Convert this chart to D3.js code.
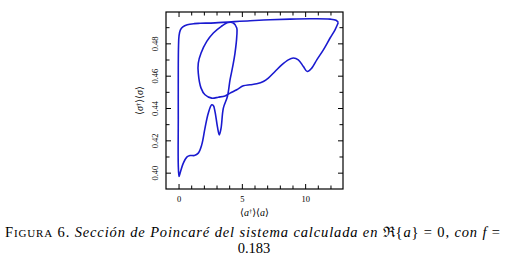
<!DOCTYPE html>
<html>
<head>
<meta charset="utf-8">
<script src="https://cdn.jsdelivr.net/npm/d3@7"></script>
<style>
  body { margin: 0; background: #fff; }
  svg { display: block; }
  text { font-family: "Liberation Serif", "DejaVu Serif", serif; }
</style>
</head>
<body>
<div id="chart"></div>
<script>
// Poincare section (x = <a+><a>, y = <s+><s>)
const secX = [12.58, 12.32, 11.93, 11.40, 10.88, 10.48, 10.13, 9.82, 9.42, 9.03, 8.63, 8.11, 7.58, 7.05, 6.66, 6.14, 5.61, 5.08, 4.56, 4.03, 3.63, 3.10, 2.58, 2.05, 1.74, 1.52, 1.52, 1.74, 2.19, 2.71, 3.32, 3.89, 4.29, 4.56, 4.56, 4.42, 4.24, 4.03, 3.82, 3.50, 3.32, 3.18, 3.03, 2.84, 2.71, 2.58, 2.31, 2.05, 1.79, 1.52, 1.21, 0.87, 0.61, 0.34, 0.08, 0.00, -0.06, -0.06, -0.06, -0.04, 0.00, 0.10, 0.30, 0.65, 1.20, 1.66, 2.84, 5.61, 7.19, 8.77, 10.35, 11.93, 12.40, 12.58];
const secY = [0.4932, 0.4887, 0.4836, 0.4763, 0.4701, 0.4650, 0.4629, 0.4660, 0.4701, 0.4712, 0.4701, 0.4670, 0.4629, 0.4588, 0.4567, 0.4553, 0.4547, 0.4540, 0.4516, 0.4495, 0.4478, 0.4470, 0.4464, 0.4485, 0.4526, 0.4619, 0.4681, 0.4743, 0.4815, 0.4867, 0.4907, 0.4932, 0.4929, 0.4898, 0.4846, 0.4743, 0.4660, 0.4578, 0.4474, 0.4402, 0.4279, 0.4237, 0.4288, 0.4381, 0.4418, 0.4423, 0.4371, 0.4279, 0.4175, 0.4124, 0.4109, 0.4109, 0.4099, 0.4062, 0.4000, 0.3979, 0.4051, 0.4330, 0.4650, 0.4790, 0.4850, 0.4885, 0.4905, 0.4918, 0.4925, 0.4927, 0.4930, 0.4943, 0.4949, 0.4953, 0.4955, 0.4953, 0.4946, 0.4932];

const xTicks = [0, 5, 10];
const yTicks = [0.40, 0.42, 0.44, 0.46, 0.48];

const width = 508;
const height = 268;
const plot = { left: 166, right: 343, top: 12, bottom: 189 };

const svg = d3.select("#chart").append("svg")
    .attr("width", width)
    .attr("height", height);

const x = d3.scaleLinear().domain([-1.03, 12.95]).range([plot.left, plot.right]);
const y = d3.scaleLinear().domain([0.3902, 0.4997]).range([plot.bottom, plot.top]);

// frame
svg.append("rect")
    .attr("x", plot.left)
    .attr("y", plot.top)
    .attr("width", plot.right - plot.left)
    .attr("height", plot.bottom - plot.top)
    .attr("fill", "none")
    .attr("stroke", "#000")
    .attr("stroke-width", 1.2);

// inward ticks on all four sides
const xMinor = d3.range(0, 13, 1);
const yMinor = d3.range(0.40, 0.495, 0.01);

function tickLen(v, majors) {
    return majors.some(m => Math.abs(m - v) < 1e-6) ? 5 : 3.5;
}

const tickG = svg.append("g").attr("stroke", "#000").attr("stroke-width", 1);
xMinor.forEach(function (v) {
    const L = tickLen(v, xTicks);
    tickG.append("line").attr("x1", x(v)).attr("x2", x(v)).attr("y1", plot.bottom).attr("y2", plot.bottom - L);
    tickG.append("line").attr("x1", x(v)).attr("x2", x(v)).attr("y1", plot.top).attr("y2", plot.top + L);
});
yMinor.forEach(function (v) {
    const L = tickLen(v, yTicks);
    tickG.append("line").attr("y1", y(v)).attr("y2", y(v)).attr("x1", plot.left).attr("x2", plot.left + L);
    tickG.append("line").attr("y1", y(v)).attr("y2", y(v)).attr("x1", plot.right).attr("x2", plot.right - L);
});

// tick labels
svg.append("g").selectAll("text")
    .data(xTicks)
    .enter().append("text")
    .attr("x", d => x(d))
    .attr("y", 201.5)
    .attr("text-anchor", "middle")
    .style("font-size", "8.5px")
    .text(d => d);

svg.append("g").selectAll("text")
    .data(yTicks)
    .enter().append("text")
    .attr("transform", d => `translate(157.5, ${y(d)}) rotate(-90)`)
    .attr("text-anchor", "middle")
    .style("font-size", "8.5px")
    .text(d => d.toFixed(2));

// axis labels
svg.append("text")
    .attr("x", (plot.left + plot.right) / 2)
    .attr("y", 216)
    .attr("text-anchor", "middle")
    .style("font-size", "10px")
    .html("⟨<tspan font-style='italic'>a</tspan><tspan dy='-3' font-size='6.5px'>†</tspan><tspan dy='3'>⟩⟨</tspan><tspan font-style='italic'>a</tspan>⟩");

svg.append("text")
    .attr("transform", `translate(143, ${(plot.top + plot.bottom) / 2}) rotate(-90)`)
    .attr("text-anchor", "middle")
    .style("font-size", "10px")
    .html("⟨<tspan font-style='italic'>σ</tspan><tspan dy='-3' font-size='6.5px'>†</tspan><tspan dy='3'>⟩⟨</tspan><tspan font-style='italic'>σ</tspan>⟩");

// the section curve
const pts = secX.map((v, i) => [v, secY[i]]);
const line = d3.line()
    .x(d => x(d[0]))
    .y(d => y(d[1]))
    .curve(d3.curveCatmullRom.alpha(0.5));

svg.append("path")
    .datum(pts)
    .attr("d", line)
    .attr("fill", "none")
    .attr("stroke", "#1a1ad0")
    .attr("stroke-width", 1.6);

// caption
const cap = svg.append("text")
    .attr("x", 5)
    .attr("y", 236.5)
    .attr("textLength", 495)
    .attr("lengthAdjust", "spacing")
    .style("font-size", "14.5px");
cap.append("tspan").text("F");
cap.append("tspan").style("font-size", "11px").text("IGURA");
cap.append("tspan").text(" 6. ");
cap.append("tspan").style("font-style", "italic").text("Sección de Poincaré del sistema calculada en ");
cap.append("tspan").text("ℜ{");
cap.append("tspan").style("font-style", "italic").text("a");
cap.append("tspan").text("} = 0, ");
cap.append("tspan").style("font-style", "italic").text("con f");
cap.append("tspan").text(" =");

svg.append("text")
    .attr("x", 254)
    .attr("y", 252.5)
    .attr("text-anchor", "middle")
    .style("font-size", "14.5px")
    .text("0.183");
</script>
</body>
</html>
